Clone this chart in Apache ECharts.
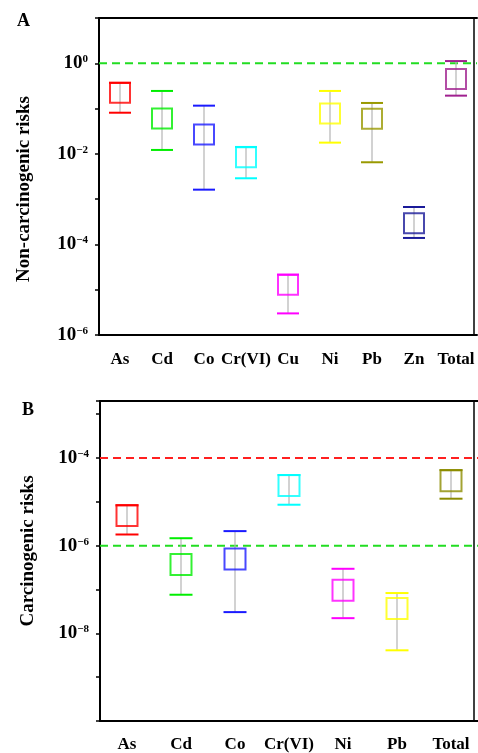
<!DOCTYPE html>
<html lang="en">
<head>
	<meta charset="utf-8">
	<title>Health risks</title>
	<script src="https://cdn.jsdelivr.net/npm/echarts@6/dist/echarts.min.js"></script>
</head>
<style>
	html,body{width: 100%; height: 100%; padding: 0; margin: 0; overflow: hidden; background: #fff;}
	#main{width: 478px; height: 753px;}
</style>
<body>
	<div id="main"></div>
</body>
<script type="text/javascript">
	// panel A: non-carcinogenic
	var catsA = ['As', 'Cd', 'Co', 'Cr(VI)', 'Cu', 'Ni', 'Pb', 'Zn', 'Total'];
	var meanA = [0.224, 0.0605, 0.0268, 0.0084, 1.29e-5, 0.078, 0.0598, 2.94e-4, 0.45];
	var lowA  = [0.081, 0.0122, 0.00162, 0.00289, 3.0e-6, 0.0177, 0.00652, 1.39e-4, 0.193];
	var highA = [0.37, 0.245, 0.116, 0.0142, 2.15e-5, 0.245, 0.133, 6.7e-4, 1.12];
	var colorsA = ['#ff0000', '#00ee00', '#1a1aff', '#00ffff', '#ff00ff', '#ffff00', '#999900', '#1a1a99', '#a0208f'];
	var limitA = [1];
	var limitColorsA = ['#22dd22'];
	var tickExpA = [0, -2, -4, -6];   // labelled decades

	// panel B: carcinogenic
	var catsB = ['As', 'Cd', 'Co', 'Cr(VI)', 'Ni', 'Pb', 'Total'];
	var meanB = [4.9e-6, 3.72e-7, 4.94e-7, 2.37e-5, 9.6e-8, 3.68e-8, 3.03e-5];
	var lowB  = [1.8e-6, 7.6e-8, 3.05e-8, 8.6e-6, 2.22e-8, 4.1e-9, 1.18e-5];
	var highB = [8.3e-6, 1.48e-6, 2.15e-6, 4.08e-5, 2.97e-7, 8.3e-8, 5.3e-5];
	var colorsB = ['#ff0000', '#00ee00', '#1a1aff', '#00ffff', '#ff00ff', '#ffff00', '#8c8c00'];
	var limitB = [1e-4, 1e-6];
	var limitColorsB = ['#ff2020', '#22dd22'];
	var tickExpB = [-4, -6, -8];

	var serif = "'Liberation Serif', 'Times New Roman', serif";

	function powLabel(shown) {
		return function (value) {
			var e = Math.log10(value);
			var r = Math.round(e);
			if (Math.abs(e - r) > 1e-6 || shown.indexOf(r) < 0) return '';
			return '{b|10}{s|' + (r < 0 ? '\u2212' + (-r) : r) + '}';
		};
	}

	function errorBars(colors, capW) {
		return function (params, api) {
			var i = api.value(0);
			var lo = api.coord([i, api.value(1)]);
			var hi = api.coord([i, api.value(2)]);
			var c = colors[params.dataIndex];
			var h = capW / 2;
			return {
				type: 'group',
				children: [
					{type: 'line', shape: {x1: lo[0], y1: lo[1], x2: hi[0], y2: hi[1]}, style: {stroke: '#b4b4b4', lineWidth: 1.2}},
					{type: 'line', shape: {x1: lo[0] - h, y1: lo[1], x2: lo[0] + h, y2: lo[1]}, style: {stroke: c, lineWidth: 2}},
					{type: 'line', shape: {x1: hi[0] - h, y1: hi[1], x2: hi[0] + h, y2: hi[1]}, style: {stroke: c, lineWidth: 2}}
				]
			};
		};
	}

	// dashed threshold lines across the whole plot width
	function limitLines(colors) {
		return function (params, api) {
			var y = api.coord([0, api.value(1)])[1];
			var cs = params.coordSys;
			return {
				type: 'line',
				shape: {x1: cs.x, y1: y, x2: cs.x + cs.width, y2: y},
				style: {stroke: colors[params.dataIndex], lineWidth: 2, lineDash: [8, 5]}
			};
		};
	}

	function xAxes(cats, idx, margin) {
		return [{
			type: 'category', gridIndex: idx, data: cats, position: 'bottom',
			axisLine: {lineStyle: {color: '#000', width: 2}},
			axisTick: {alignWithLabel: true, length: 5, lineStyle: {color: '#000', width: 1.5}},
			axisLabel: {color: '#000', fontFamily: serif, fontWeight: 'bold', fontSize: 17, margin: margin, interval: 0},
			splitLine: {show: false}
		}, {
			type: 'category', gridIndex: idx, data: cats, position: 'top',
			axisLine: {lineStyle: {color: '#000', width: 2}},
			axisTick: {show: false}, axisLabel: {show: false}
		}];
	}

	function yAxes(min, max, idx, rightOffset, shown) {
		return [{
			type: 'log', gridIndex: idx, min: min, max: max, position: 'left',
			axisLine: {show: true, lineStyle: {color: '#000', width: 2}},
			axisTick: {show: true, length: 4, lineStyle: {color: '#000', width: 1.5}},
			axisLabel: {
				formatter: powLabel(shown), margin: 11, color: '#000',
				rich: {
					b: {fontFamily: serif, fontWeight: 'bold', fontSize: 19, color: '#000'},
					s: {fontFamily: serif, fontWeight: 'bold', fontSize: 11, color: '#000', verticalAlign: 'top'}
				}
			},
			splitLine: {show: false}, minorTick: {show: false}
		}, {
			type: 'log', gridIndex: idx, min: min, max: max, position: 'right', offset: rightOffset,
			axisLine: {show: true, lineStyle: {color: '#000', width: 1.5}},
			axisTick: {show: false}, axisLabel: {show: false}, splitLine: {show: false}
		}];
	}

	function panelSeries(cats, mean, low, high, colors, limits, limitColors, idx, boxSize, capW) {
		var bars = [], pts = [], lim = [];
		for (var i = 0; i < cats.length; i++) {
			bars.push([i, low[i], high[i]]);
			pts.push({value: [i, mean[i]], itemStyle: {color: 'rgba(0,0,0,0)', borderColor: colors[i], borderWidth: 2}});
		}
		for (var k = 0; k < limits.length; k++) lim.push([0, limits[k]]);
		return [{
			type: 'custom', xAxisIndex: idx * 2, yAxisIndex: idx * 2,
			data: lim, encode: {x: 0, y: 1},
			renderItem: limitLines(limitColors), z: 1, silent: true
		}, {
			type: 'custom', xAxisIndex: idx * 2, yAxisIndex: idx * 2,
			data: bars, encode: {x: 0, y: [1, 2]},
			renderItem: errorBars(colors, capW), z: 2, silent: true
		}, {
			type: 'scatter', xAxisIndex: idx * 2, yAxisIndex: idx * 2,
			data: pts, symbol: 'rect', symbolSize: boxSize, z: 3, silent: true
		}];
	}

	var myChart = echarts.init(document.getElementById('main'), null, {renderer: 'canvas'});
	var option = {
		animation: false,
		backgroundColor: '#fff',
		grid: [
			{left: 99, top: 18, width: 378, height: 317},
			{left: 100, top: 401, width: 381, height: 320}
		],
		xAxis: xAxes(catsA, 0, 16).concat(xAxes(catsB, 1, 15)),
		yAxis: yAxes(1e-6, 10, 0, -3, tickExpA).concat(yAxes(1e-10, 0.002, 1, -4, tickExpB)),
		series: panelSeries(catsA, meanA, lowA, highA, colorsA, limitA, limitColorsA, 0, 20, 22)
			.concat(panelSeries(catsB, meanB, lowB, highB, colorsB, limitB, limitColorsB, 1, 21, 23)),
		graphic: [
			{type: 'text', left: 17, top: 12, style: {text: 'A', font: 'bold 18px ' + serif, fill: '#000'}},
			{type: 'text', left: 22, top: 401, style: {text: 'B', font: 'bold 18px ' + serif, fill: '#000'}},
			{type: 'text', x: 24, y: 189, rotation: Math.PI / 2,
				style: {text: 'Non-carcinogenic risks', font: 'bold 19px ' + serif, fill: '#000', align: 'center', verticalAlign: 'middle'}},
			{type: 'text', x: 28, y: 551, rotation: Math.PI / 2,
				style: {text: 'Carcinogenic risks', font: 'bold 19px ' + serif, fill: '#000', align: 'center', verticalAlign: 'middle'}}
		]
	};
	myChart.setOption(option);
</script>
</html>
